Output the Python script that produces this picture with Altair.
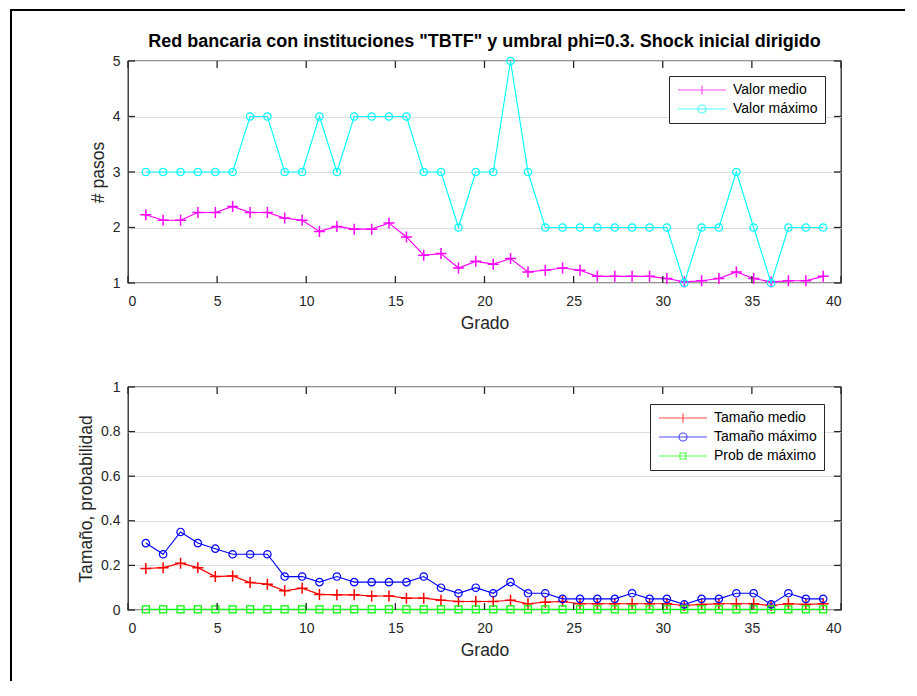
import altair as alt
import pandas as pd

# ---------------- data ----------------
grado = [1.00, 1.97, 2.95, 3.92, 4.90, 5.87, 6.85, 7.82, 8.79, 9.77,
         10.74, 11.72, 12.69, 13.67, 14.64, 15.62, 16.59, 17.56, 18.54, 19.51,
         20.49, 21.46, 22.44, 23.41, 24.38, 25.36, 26.33, 27.31, 28.28, 29.26,
         30.23, 31.21, 32.18, 33.15, 34.13, 35.10, 36.08, 37.05, 38.03, 39.00]

valor_medio = [2.23, 2.13, 2.13, 2.27, 2.27, 2.38, 2.27, 2.27, 2.17, 2.13,
               1.93, 2.02, 1.97, 1.97, 2.08, 1.83, 1.50, 1.53, 1.27, 1.39,
               1.34, 1.44, 1.20, 1.23, 1.27, 1.23, 1.12, 1.12, 1.12, 1.12,
               1.08, 1.02, 1.04, 1.08, 1.20, 1.08, 1.02, 1.04, 1.04, 1.12]

valor_maximo = [3, 3, 3, 3, 3, 3, 4, 4, 3, 3,
                4, 3, 4, 4, 4, 4, 3, 3, 2, 3,
                3, 5, 3, 2, 2, 2, 2, 2, 2, 2,
                2, 1, 2, 2, 3, 2, 1, 2, 2, 2]

tamano_medio = [0.186, 0.190, 0.210, 0.190, 0.150, 0.153, 0.123, 0.116, 0.086, 0.098,
                0.070, 0.068, 0.068, 0.063, 0.063, 0.053, 0.053, 0.044, 0.038, 0.038,
                0.038, 0.044, 0.028, 0.035, 0.038, 0.028, 0.028, 0.028, 0.028, 0.028,
                0.028, 0.020, 0.025, 0.028, 0.028, 0.028, 0.020, 0.028, 0.025, 0.028]

tamano_maximo = [0.300, 0.250, 0.350, 0.300, 0.275, 0.250, 0.250, 0.250, 0.150, 0.150,
                 0.125, 0.150, 0.125, 0.125, 0.125, 0.125, 0.150, 0.100, 0.075, 0.100,
                 0.075, 0.125, 0.075, 0.075, 0.050, 0.050, 0.050, 0.050, 0.075, 0.050,
                 0.050, 0.025, 0.050, 0.050, 0.075, 0.075, 0.025, 0.075, 0.050, 0.050]

prob_maximo = [0.003, 0.003, 0.003, 0.003, 0.003, 0.003, 0.003, 0.003, 0.003, 0.003,
               0.003, 0.003, 0.003, 0.003, 0.003, 0.003, 0.003, 0.003, 0.003, 0.003,
               0.003, 0.003, 0.003, 0.003, 0.003, 0.003, 0.003, 0.003, 0.003, 0.003,
               0.003, 0.003, 0.003, 0.003, 0.003, 0.003, 0.003, 0.003, 0.003, 0.003]

x_ticks = [0, 5, 10, 15, 20, 25, 30, 35, 40]
y_ticks_top = [1, 2, 3, 4, 5]
y_ticks_bottom = [0, 0.2, 0.4, 0.6, 0.8, 1]

titulo = 'Red bancaria con instituciones "TBTF" y umbral phi=0.3. Shock inicial dirigido'

# ---------------- styling ----------------
FONT = "Liberation Sans"
AXC = "#262626"
W = 713
H1 = 222
H2 = 223
GAP = 104
TICK = 7
LW = 1.15

PLUS = "M-1,0L1,0M0,-1L0,1"
LEG_PLUS = "M-4.8,0L4.8,0M0,-0.9L0,0.9"
LEG_CIRC = "M-4.8,0L4.8,0M0.8,0A0.8,0.8,0,1,1,-0.8,0A0.8,0.8,0,1,1,0.8,0"
LEG_SQR = "M-4.8,0L4.8,0M-0.6,-0.6L0.6,-0.6L0.6,0.6L-0.6,0.6Z"


def panel(series, ydomain, yticks, ytitle, height, lx, ly, title=None, frame=False):
    rows = []
    for name, vals, color, shape, size, sw, legpath in series:
        for g, v in zip(grado, vals):
            rows.append({"grado": g, "valor": v, "serie": name})
    df = pd.DataFrame(rows)

    xscale = alt.Scale(domain=[0, 40], nice=False, zero=False)
    yscale = alt.Scale(domain=ydomain, nice=False, zero=False)
    xaxis = alt.Axis(values=x_ticks, title="Grado", grid=False, labelPadding=11,
                     titlePadding=6, format="~g")
    yaxis = alt.Axis(values=yticks, title=ytitle, grid=True, labelPadding=8,
                     titlePadding=5, format="~g")
    xenc = alt.X("grado:Q", scale=xscale, axis=xaxis)
    yenc = alt.Y("valor:Q", scale=yscale, axis=yaxis)

    layers = []
    if frame:
        # outer figure border (left and top edges), placed relative to this panel
        one = pd.DataFrame({"k": [0]})
        top_y = -(H1 + GAP) - 51
        layers.append(alt.Chart(one).mark_rule(color="black", strokeWidth=2).encode(
            x=alt.value(-117), y=alt.value(top_y), y2=alt.value(294)))
        layers.append(alt.Chart(one).mark_rule(color="black", strokeWidth=2).encode(
            x=alt.value(-118), x2=alt.value(777), y=alt.value(top_y)))

    for name, vals, color, shape, size, sw, legpath in series:
        sub = alt.Chart(df).transform_filter(alt.datum.serie == name)
        layers.append(sub.mark_line(color=color, strokeWidth=LW).encode(x=xenc, y=yenc))
        layers.append(sub.mark_point(shape=shape, size=size, filled=False, color=color,
                                     strokeWidth=sw, opacity=1).encode(x=xenc, y=yenc))

    # inward ticks (MATLAB style) on all four sides
    dxt = pd.DataFrame({"t": x_ticks})
    dyt = pd.DataFrame({"t": yticks})
    xt = alt.X("t:Q", scale=xscale, axis=xaxis)
    yt = alt.Y("t:Q", scale=yscale, axis=yaxis)
    layers.append(alt.Chart(dxt).mark_rule(color=AXC, strokeWidth=1.3).encode(
        x=xt, y=alt.value(height), y2=alt.value(height - TICK)))
    layers.append(alt.Chart(dxt).mark_rule(color=AXC, strokeWidth=1.3).encode(
        x=xt, y=alt.value(0), y2=alt.value(TICK)))
    layers.append(alt.Chart(dyt).mark_rule(color=AXC, strokeWidth=1.3).encode(
        y=yt, x=alt.value(0), x2=alt.value(TICK)))
    layers.append(alt.Chart(dyt).mark_rule(color=AXC, strokeWidth=1.3).encode(
        y=yt, x=alt.value(W), x2=alt.value(W - TICK)))

    # legend layer (no visible marks, only drives the legend)
    names = [s[0] for s in series]
    colors = [s[2] for s in series]
    legpaths = [s[6] for s in series]
    leg = alt.Legend(title=None, orient="none", legendX=lx, legendY=ly,
                     labelFont=FONT, labelFontSize=14, labelColor="black",
                     strokeColor=AXC, fillColor="white", padding=7, rowPadding=5,
                     symbolSize=100, symbolStrokeWidth=LW, labelOffset=24,
                     symbolOffset=19)
    layers.append(alt.Chart(df).transform_filter("false").mark_point(
        filled=False, size=100, strokeWidth=LW).encode(
        x=xenc, y=yenc,
        stroke=alt.Stroke("serie:N", scale=alt.Scale(domain=names, range=colors), legend=leg),
        shape=alt.Shape("serie:N", scale=alt.Scale(domain=names, range=legpaths), legend=leg),
    ))

    props = dict(width=W, height=height)
    if title:
        props["title"] = alt.Title(title, font=FONT, fontSize=18, fontWeight="bold",
                                   color="black", anchor="middle", frame="group", offset=3)
    return alt.layer(*layers).properties(**props)


top = panel(
    [("Valor medio", valor_medio, "#ff00ff", PLUS, 121, 1.5, LEG_PLUS),
     ("Valor máximo", valor_maximo, "#00ffff", "circle", 55, 1.2, LEG_CIRC)],
    [1, 5], y_ticks_top, "# pasos", H1, 541, 15, title=titulo)

bottom = panel(
    [("Tamaño medio", tamano_medio, "#ff0000", PLUS, 121, 1.5, LEG_PLUS),
     ("Tamaño máximo", tamano_maximo, "#0000ff", "circle", 55, 1.2, LEG_CIRC),
     ("Prob de máximo", prob_maximo, "#00ff00", "square", 49, 1.2, LEG_SQR)],
    [0, 1], y_ticks_bottom, "Tamaño, probabilidad", H2, 522, 17, frame=True)

chart = alt.vconcat(top, bottom, spacing=GAP).properties(
    bounds="flush", padding=0
).resolve_scale(
    stroke="independent", shape="independent"
).resolve_legend(
    stroke="independent", shape="independent"
).configure_view(
    stroke=AXC, strokeWidth=1.3
).configure_axis(
    domain=False, ticks=False, tickSize=0,
    labelFont=FONT, labelFontSize=14, labelColor=AXC,
    titleFont=FONT, titleFontSize=17.5, titleFontWeight="normal", titleColor=AXC,
    gridColor="#dedede", gridWidth=1,
)

chart.save("out.html", embed_options={"renderer": "svg", "actions": False})
